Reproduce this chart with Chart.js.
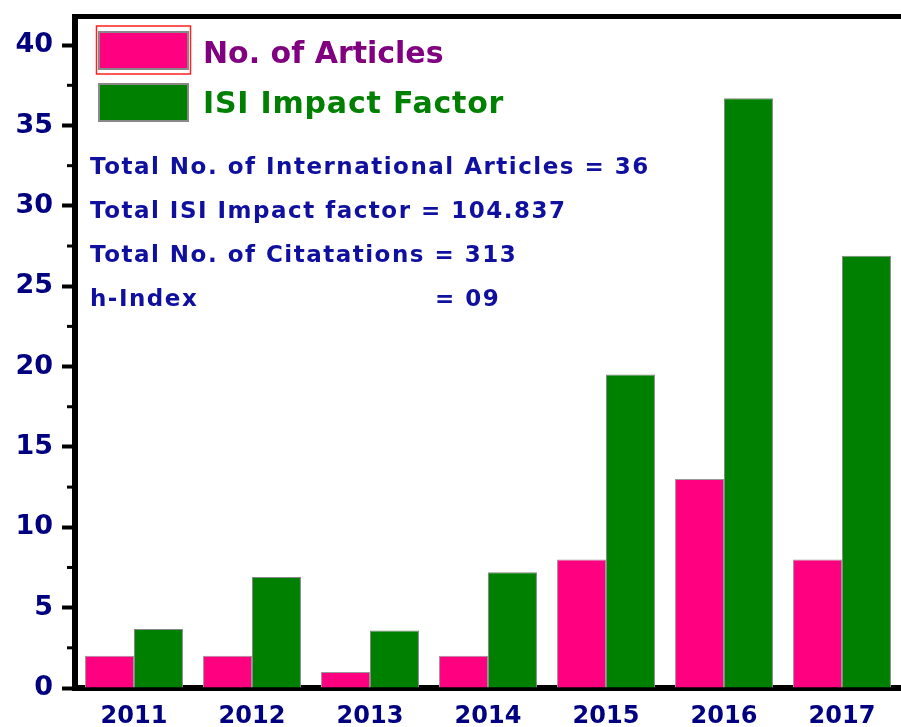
<!DOCTYPE html>
<html>
<head>
<meta charset="utf-8">
<script src="https://cdn.jsdelivr.net/npm/chart.js@4"></script>
<style>
  html, body { margin: 0; padding: 0; background: #fff; overflow: hidden; }
  #wrap { width: 901px; height: 727px; }
</style>
</head>
<body>
<div id="wrap"><canvas id="myChart"></canvas></div>
<script>
const years = ['2011', '2012', '2013', '2014', '2015', '2016', '2017'];
const articles = [2, 2, 1, 2, 8, 13, 8];
const impactFactor = [3.67, 6.9, 3.57, 7.2, 19.5, 36.7, 26.9];
const yTicks = [0, 5, 10, 15, 20, 25, 30, 35, 40];
const summaryLines = [
  ['Total No. of International Articles = 36', ''],
  ['Total ISI Impact factor = 104.837', ''],
  ['Total No. of Citatations = 313', ''],
  ['h-Index', '= 09']
];

const FONT = '"DejaVu Sans", sans-serif';

// frame, minor ticks, legend and the text box
const decorations = {
  id: 'decorations',
  afterDraw(chart) {
    const ctx = chart.ctx;
    const ca = chart.chartArea;
    const y = chart.scales.y;
    ctx.save();

    // top frame line
    ctx.strokeStyle = '#000';
    ctx.lineWidth = 5;
    ctx.beginPath();
    ctx.moveTo(ca.left - 3, ca.top - 0.5);
    ctx.lineTo(ca.right, ca.top - 0.5);
    ctx.stroke();

    // minor ticks
    ctx.lineWidth = 3;
    for (let v = 2.5; v < y.max; v += 5) {
      const py = y.getPixelForValue(v);
      ctx.beginPath();
      ctx.moveTo(ca.left - 8, py);
      ctx.lineTo(ca.left, py);
      ctx.stroke();
    }

    // legend
    const ds = chart.data.datasets;
    const legendText = ['#800080', '#008000'];
    ds.forEach((d, i) => {
      const bx = 99, by = 32 + i * 52;
      ctx.fillStyle = d.backgroundColor;
      ctx.fillRect(bx, by, 89, 37);
      ctx.strokeStyle = '#888';
      ctx.lineWidth = 2;
      ctx.strokeRect(bx, by, 89, 37);
      if (i === 0) {
        ctx.strokeStyle = '#ff2020';
        ctx.lineWidth = 1.5;
        ctx.strokeRect(bx - 2.5, by - 6, 94, 48);
      }
      ctx.fillStyle = legendText[i];
      ctx.font = 'bold 30px ' + FONT;
      ctx.textBaseline = 'alphabetic';
      ctx.textAlign = 'left';
      ctx.letterSpacing = i === 1 ? '0.8px' : '0px';
      ctx.fillText(d.label, 203, 63 + i * 50);
    });

    // summary text
    ctx.fillStyle = '#1010a0';
    ctx.font = 'bold 23px ' + FONT;
    ctx.letterSpacing = '1.5px';
    summaryLines.forEach((ln, i) => {
      const by = 174 + i * 44;
      ctx.fillText(ln[0], 90, by);
      if (ln[1]) ctx.fillText(ln[1], 435, by);
    });

    ctx.restore();
  }
};

new Chart(document.getElementById('myChart'), {
  type: 'bar',
  data: {
    labels: years,
    datasets: [{
      label: 'No. of Articles',
      data: articles,
      backgroundColor: '#ff0080',
      borderColor: '#999',
      borderWidth: 1
    }, {
      label: 'ISI Impact Factor',
      data: impactFactor,
      backgroundColor: '#008000',
      borderColor: '#888',
      borderWidth: 1
    }]
  },
  options: {
    responsive: true,
    maintainAspectRatio: false,
    animation: false,
    layout: { padding: { top: 17, left: 0, right: 0, bottom: 0 } },
    datasets: { bar: { categoryPercentage: 0.83, barPercentage: 1.0 } },
    plugins: {
      legend: { display: false },
      tooltip: { enabled: false }
    },
    scales: {
      x: {
        afterFit: (s) => { s.height = 39; s.paddingLeft = 0; s.paddingRight = 0; },
        grid: { display: false, drawTicks: false },
        border: { display: true, color: '#000', width: 6 },
        ticks: {
          color: '#000080',
          padding: 14,
          font: { family: FONT, size: 24, weight: 'bold' }
        }
      },
      y: {
        min: 0,
        max: 41.75,
        afterFit: (s) => { s.width = 75; s.paddingTop = 0; s.paddingBottom = 0; },
        afterBuildTicks: (s) => { s.ticks = yTicks.map(v => ({ value: v })); },
        grid: { drawOnChartArea: false, tickLength: 13, tickWidth: 4, tickColor: '#000' },
        border: { display: true, color: '#000', width: 6 },
        ticks: {
          color: '#000080',
          padding: 9,
          font: { family: FONT, size: 27, weight: 'bold' }
        }
      }
    }
  },
  plugins: [decorations]
});
</script>
</body>
</html>
